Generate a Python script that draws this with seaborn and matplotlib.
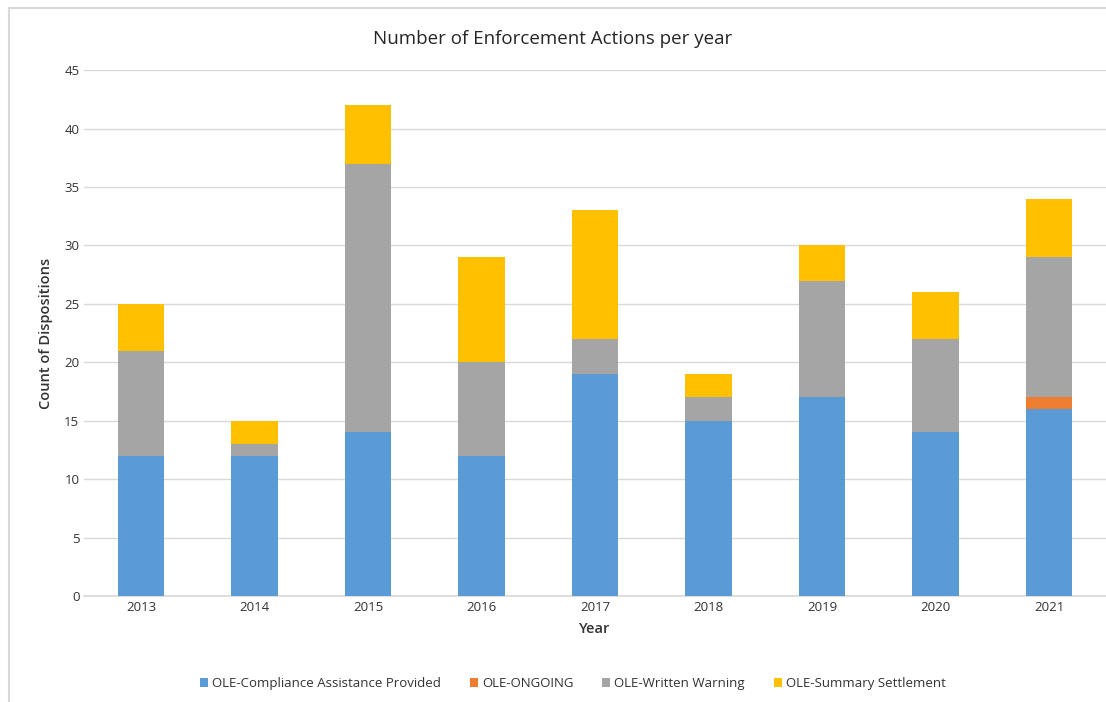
import matplotlib
matplotlib.use("Agg")
import matplotlib.pyplot as plt
import seaborn as sns
import pandas as pd
import numpy as np
from matplotlib.lines import Line2D

years = ["2013", "2014", "2015", "2016", "2017", "2018", "2019", "2020", "2021"]
compliance = [12, 12, 14, 12, 19, 15, 17, 14, 16]
ongoing = [0, 0, 0, 0, 0, 0, 0, 0, 1]
warning = [9, 1, 23, 8, 3, 2, 10, 8, 12]
settlement = [4, 2, 5, 9, 11, 2, 3, 4, 5]

series = [
    ("OLE-Compliance Assistance Provided", compliance, "#5B9BD5"),
    ("OLE-ONGOING", ongoing, "#ED7D31"),
    ("OLE-Written Warning", warning, "#A5A5A5"),
    ("OLE-Summary Settlement", settlement, "#FFC000"),
]

sns.set_theme(style="white")
plt.rcParams["font.family"] = ["Open Sans", "DejaVu Sans"]

fig = plt.figure(figsize=(11.06, 7.02), dpi=100)
ax = fig.add_axes([0.0762, 0.151, 0.9236, 0.749])

bottom = np.zeros(len(years))
for name, vals, color in series:
    df = pd.DataFrame({"Year": years, "Count": vals})
    sns.barplot(data=df, x="Year", y="Count", color=color, width=0.41,
                bottom=bottom.copy(), errorbar=None, ax=ax, label=name,
                saturation=1, linewidth=0, zorder=3)
    bottom += np.array(vals)

ax.set_ylim(0, 45)
ax.set_yticks(range(0, 46, 5))
ax.set_xlim(-0.5, len(years) - 0.5)
ax.yaxis.grid(True, color="#D9D9D9", linewidth=1, zorder=0)
for s in ["top", "right", "left"]:
    ax.spines[s].set_visible(False)
ax.spines["bottom"].set_color("#D9D9D9")
ax.tick_params(axis="both", colors="#404040", labelsize=9.5, length=0)
for lbl in ax.get_xticklabels() + ax.get_yticklabels():
    lbl.set_color("#333333")
ax.set_xlabel("Year", fontsize=10.5, color="#333333", labelpad=6, fontweight="semibold")
ax.set_ylabel("Count of Dispositions", fontsize=10.5, color="#333333", labelpad=8,
              fontweight="semibold")
fig.text(0.5, 0.945, "Number of Enforcement Actions per year", ha="center",
         va="center", fontsize=13.5, color="#262626")

handles, labels = ax.get_legend_handles_labels()
ax.legend(handles, labels, loc="center", bbox_to_anchor=(0.518, 0.026),
          bbox_transform=fig.transFigure, ncol=4, frameon=False,
          fontsize=9.5, handlelength=0.6, handleheight=0.6, columnspacing=2.2,
          handletextpad=0.3, labelcolor="#333333")

# partial frame (left and top edges visible in the reference crop)
fig.add_artist(Line2D([0.0085, 0.0085], [0.0, 0.988], transform=fig.transFigure,
                      color="#D9D9D9", linewidth=1.5))
fig.add_artist(Line2D([0.0085, 1.0], [0.988, 0.988], transform=fig.transFigure,
                      color="#D9D9D9", linewidth=1.5))

fig.savefig("out.png", dpi=100, facecolor="white")
